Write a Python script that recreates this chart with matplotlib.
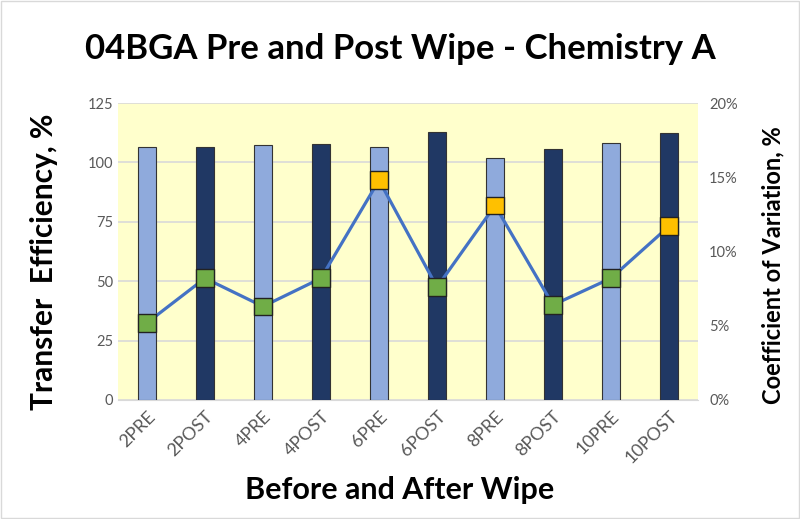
import matplotlib
matplotlib.use("Agg")
import matplotlib.pyplot as plt
from matplotlib.ticker import FuncFormatter
from matplotlib.patches import Rectangle

# chart values
categories = ["2PRE", "2POST", "4PRE", "4POST", "6PRE", "6POST", "8PRE", "8POST", "10PRE", "10POST"]
transfer_eff = [106.6, 106.6, 107.3, 107.9, 106.6, 112.8, 101.9, 105.5, 108.0, 112.2]
cv_pct = [5.2, 8.2, 6.3, 8.2, 14.8, 7.6, 13.1, 6.4, 8.2, 11.7]
cv_limit = 10.0

light_bar = "#8FAADC"
dark_bar = "#203864"
bg_yellow = "#FFFFCC"

plt.rcParams["font.family"] = ["Lato", "DejaVu Sans"]

fig = plt.figure(figsize=(8, 5.19), dpi=100)
fig.patches.append(Rectangle((0.001, 0.001), 0.998, 0.998, transform=fig.transFigure,
                             fill=False, edgecolor="#D9D9D9", linewidth=1))
ax = fig.add_axes([0.1475, 0.2293, 0.725, 0.5722])
ax.set_facecolor(bg_yellow)

x = list(range(len(categories)))
colors = [light_bar if "PRE" in c else dark_bar for c in categories]
ax.bar(x, transfer_eff, width=0.31, color=colors, edgecolor="#333333", linewidth=0.8, zorder=3)

ax.set_ylim(0, 125)
ax.set_yticks([0, 25, 50, 75, 100, 125])
ax.set_xlim(-0.5, len(categories) - 0.5)
ax.grid(axis="y", color="#D9D9D9", linewidth=1.2, zorder=0)
ax.set_axisbelow(True)
for s in ["top", "right", "left"]:
    ax.spines[s].set_visible(False)
ax.spines["bottom"].set_color("#D9D9D9")
ax.tick_params(axis="both", length=0, colors="#595959", labelsize=10.5)
ax.tick_params(axis="x", labelsize=13, pad=6)
ax.set_xticks(x)
ax.set_xticklabels(categories, rotation=45, ha="right", rotation_mode="anchor")

ax2 = ax.twinx()
ax2.set_ylim(0, 20)
ax2.set_yticks([0, 5, 10, 15, 20])
ax2.yaxis.set_major_formatter(FuncFormatter(lambda v, p: "%d%%" % v))
for s in ["top", "right", "left", "bottom"]:
    ax2.spines[s].set_visible(False)
ax2.tick_params(axis="y", length=0, colors="#595959", labelsize=10.5, pad=8)
ax2.plot(x, cv_pct, color="#4472C4", linewidth=2.3, zorder=4)
mcolors = ["#FFC000" if v > cv_limit else "#70AD47" for v in cv_pct]
ax2.scatter(x, cv_pct, marker="s", s=160, c=mcolors, edgecolors="#222222", linewidths=1, zorder=5)

fig.text(0.5, 0.905, "04BGA Pre and Post Wipe - Chemistry A", ha="center", va="center",
         fontsize=25, fontweight="bold")
fig.text(0.5, 0.055, "Before and After Wipe", ha="center", va="center",
         fontsize=22, fontweight="bold")
fig.text(0.055, 0.495, "Transfer  Efficiency, %", ha="center", va="center", rotation=90,
         fontsize=21.5, fontweight="bold")
fig.text(0.966, 0.49, "Coefficient of Variation, %", ha="center", va="center", rotation=90,
         fontsize=17, fontweight="bold")

fig.savefig("out.png", dpi=100)
